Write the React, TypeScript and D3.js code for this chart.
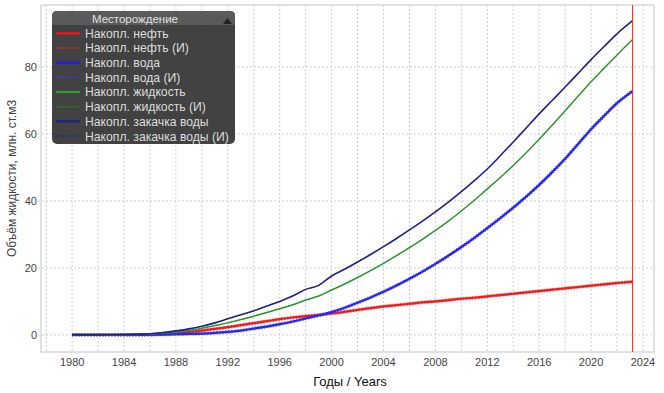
import React, { useRef, useEffect } from 'react';
import * as d3 from 'd3';

// ─── Data (cumulative volumes, mln. m3) ────────────────────────────────────────
const years = [
    1980, 1981, 1982, 1983, 1984, 1985, 1986, 1987, 1988, 1989,
    1990, 1991, 1992, 1993, 1994, 1995, 1996, 1997, 1998, 1999,
    2000, 2001, 2002, 2003, 2004, 2005, 2006, 2007, 2008, 2009,
    2010, 2011, 2012, 2013, 2014, 2015, 2016, 2017, 2018, 2019,
    2020, 2021, 2022, 2023.2,
];

const oil = [
    0, 0, 0, 0, 0.02, 0.05, 0.1, 0.25, 0.5, 0.9,
    1.3, 1.8, 2.3, 2.9, 3.5, 4.1, 4.7, 5.2, 5.6, 6.0,
    6.4, 6.9, 7.5, 8.0, 8.5, 8.9, 9.3, 9.7, 10.0, 10.4,
    10.8, 11.1, 11.5, 11.9, 12.3, 12.7, 13.1, 13.5, 13.9, 14.3,
    14.7, 15.1, 15.5, 15.9,
];

const water = [
    0, 0, 0, 0, 0, 0, 0.05, 0.1, 0.2, 0.3,
    0.4, 0.6, 0.9, 1.3, 1.9, 2.5, 3.2, 4.0, 4.9, 5.8,
    6.8, 8.1, 9.6, 11.2, 12.9, 14.75, 16.75, 18.9, 21.2, 23.65,
    26.25, 29.0, 31.9, 34.9, 38.0, 41.3, 44.8, 48.6, 52.6, 57.0,
    61.4, 65.4, 69.2, 72.8,
];

const liquid = [
    0, 0, 0, 0, 0.05, 0.15, 0.3, 0.55, 0.9, 1.3,
    2.0, 2.8, 3.6, 4.6, 5.6, 6.7, 7.8, 9.0, 10.4, 11.6,
    13.4, 15.2, 17.15, 19.2, 21.35, 23.65, 26.05, 28.55, 31.2, 34.0,
    37.0, 40.2, 43.6, 47.0, 50.6, 54.4, 58.4, 62.6, 66.9, 71.3,
    75.6, 79.6, 83.6, 88.2,
];

const injection = [
    0, 0, 0, 0.05, 0.1, 0.2, 0.35, 0.7, 1.2, 1.8,
    2.6, 3.6, 4.8, 6.0, 7.2, 8.6, 10.0, 11.6, 13.6, 14.8,
    17.6, 19.6, 21.75, 24.0, 26.35, 28.8, 31.35, 34.0, 36.75, 39.65,
    42.75, 46.05, 49.55, 53.5, 57.6, 61.8, 66.0, 70.0, 74.0, 78.1,
    82.2, 86.1, 89.9, 93.8,
];

const xTicks = [1980, 1984, 1988, 1992, 1996, 2000, 2004, 2008, 2012, 2016, 2020, 2024];
const xGrid = d3.range(1978, 2026, 2);
const yTicks = [0, 20, 40, 60, 80];
const currentYear = 2023.2;

interface Series {
    name: string;
    values: number[];
    color: string;
    width: number;
    dash?: string;
}

const series: Series[] = [
    { name: 'Накопл. нефть', values: oil, color: '#ff1010', width: 2.2 },
    { name: 'Накопл. нефть (И)', values: oil, color: '#e82828', width: 3.4, dash: '1.5,1.5' },
    { name: 'Накопл. вода', values: water, color: '#1a1aff', width: 2.2 },
    { name: 'Накопл. вода (И)', values: water, color: '#3a3ae8', width: 3.4, dash: '1.5,1.5' },
    { name: 'Накопл. жидкость', values: liquid, color: '#2f9a2f', width: 1.5 },
    { name: 'Накопл. жидкость (И)', values: liquid, color: '#2a8a2a', width: 1, dash: '1.5,1.5' },
    { name: 'Накопл. закачка воды', values: injection, color: '#22228a', width: 1.6 },
    { name: 'Накопл. закачка воды (И)', values: injection, color: '#222290', width: 1, dash: '1.5,1.5' },
];

const W = 664;
const H = 393;
const FONT = 'Arial, "Liberation Sans", sans-serif';

const App: React.FC = () => {
    const ref = useRef<SVGSVGElement | null>(null);

    useEffect(() => {
        if (!ref.current) return;
        const svg = d3.select(ref.current);
        svg.selectAll('*').remove();

        // plot box
        const left = 41, right = 654, top = 5, bottom = 352;

        const x = d3.scaleLinear().domain([1977.6, 2024.85]).range([left, right]);
        const y = d3.scaleLinear().domain([-5.1, 98.5]).range([bottom, top]);

        svg.append('rect')
            .attr('x', 0).attr('y', 0).attr('width', W).attr('height', H)
            .attr('fill', '#fff');

        // grid
        const grid = svg.append('g');
        grid.selectAll('line.vg')
            .data(xGrid.filter(v => x(v) > left && x(v) < right))
            .enter().append('line')
            .attr('x1', d => x(d)).attr('x2', d => x(d))
            .attr('y1', top).attr('y2', bottom)
            .attr('stroke', '#cfcfcf').attr('stroke-width', 1)
            .attr('stroke-dasharray', '2,2');
        grid.selectAll('line.hg')
            .data(yTicks)
            .enter().append('line')
            .attr('x1', left - 3).attr('x2', right)
            .attr('y1', d => y(d)).attr('y2', d => y(d))
            .attr('stroke', '#cfcfcf').attr('stroke-width', 1)
            .attr('stroke-dasharray', '2,2');

        // frame
        svg.append('rect')
            .attr('x', left).attr('y', top)
            .attr('width', right - left).attr('height', bottom - top)
            .attr('fill', 'none').attr('stroke', '#c4c4c4').attr('stroke-width', 1);

        // tick labels
        svg.append('g').selectAll('text')
            .data(xTicks)
            .enter().append('text')
            .attr('x', d => x(d)).attr('y', bottom + 14)
            .attr('text-anchor', 'middle')
            .style('font-family', FONT).style('font-size', '11px').style('fill', '#444')
            .text(d => d);

        svg.append('g').selectAll('text')
            .data(yTicks)
            .enter().append('text')
            .attr('x', left - 4).attr('y', d => y(d) + 4)
            .attr('text-anchor', 'end')
            .style('font-family', FONT).style('font-size', '11px').style('fill', '#444')
            .text(d => d);

        // axis titles
        svg.append('text')
            .attr('x', 350).attr('y', 386)
            .attr('text-anchor', 'middle')
            .style('font-family', FONT).style('font-size', '13px').style('fill', '#111')
            .text('Годы / Years');

        svg.append('text')
            .attr('transform', `translate(16,${(top + bottom) / 2}) rotate(-90)`)
            .attr('text-anchor', 'middle')
            .style('font-family', FONT).style('font-size', '12px').style('fill', '#444')
            .text('Объём жидкости, млн. ст.м3');

        // lines
        const line = d3.line<number>()
            .x((_, i) => x(years[i]))
            .y(d => y(d))
            .curve(d3.curveMonotoneX);

        svg.append('g').selectAll('path')
            .data(series)
            .enter().append('path')
            .attr('d', d => line(d.values) as string)
            .attr('fill', 'none')
            .attr('stroke', d => d.color)
            .attr('stroke-width', d => d.width)
            .attr('stroke-dasharray', d => d.dash ?? null)
            .attr('stroke-opacity', d => (d.dash ? 0.75 : 1));

        // current date marker
        svg.append('line')
            .attr('x1', x(currentYear)).attr('x2', x(currentYear))
            .attr('y1', top).attr('y2', bottom)
            .attr('stroke', '#ff2020').attr('stroke-width', 1);

        // legend
        const lg = svg.append('g').attr('transform', 'translate(52,11)');
        lg.append('rect')
            .attr('width', 183).attr('height', 133).attr('rx', 5)
            .attr('fill', '#383838').attr('fill-opacity', 0.95);
        lg.append('path')
            .attr('d', 'M0,14 L0,5 Q0,0 5,0 L178,0 Q183,0 183,5 L183,14 Z')
            .attr('fill', '#5a5a5a');
        lg.append('text')
            .attr('x', 83).attr('y', 12)
            .attr('text-anchor', 'middle')
            .style('font-family', FONT).style('font-size', '11.5px').style('fill', '#e0e0e0')
            .text('Месторождение');
        lg.append('path')
            .attr('d', 'M171,13 L175.5,7 L180,13 Z')
            .attr('fill', '#222');

        const rowY = d3.scaleLinear().domain([0, series.length - 1]).range([22.3, 125]);
        const rows = lg.selectAll('g.row')
            .data(series)
            .enter().append('g')
            .attr('transform', (_, i) => `translate(0,${rowY(i)})`);
        rows.append('line')
            .attr('x1', 4).attr('x2', 28)
            .attr('stroke', d => d.color)
            .attr('stroke-width', d => (d.dash ? 1.5 : 2.2))
            .attr('stroke-dasharray', d => d.dash ? '1.5,1.5' : null);
        rows.append('text')
            .attr('x', 33).attr('y', 4.5)
            .style('font-family', FONT).style('font-size', '12.2px').style('fill', '#dcdcdc')
            .text(d => d.name);
    }, []);

    return (
        <svg
            ref={ref}
            width={W}
            height={H}
            style={{ position: 'absolute', left: 0, top: 0 }}
        />
    );
};

export default App;
